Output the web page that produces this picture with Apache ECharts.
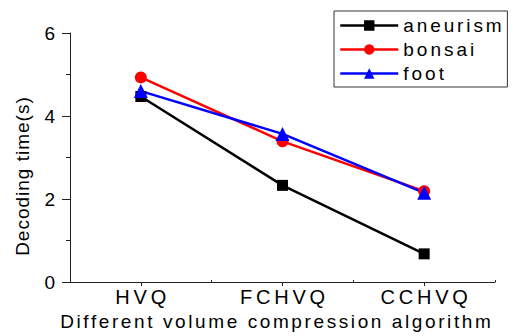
<!DOCTYPE html>
<html>
<head>
<meta charset="utf-8">
<script src="https://cdn.jsdelivr.net/npm/echarts@6/dist/echarts.min.js"></script>
<style>
html,body{margin:0;padding:0;background:#fff;}
#c{width:513px;height:336px;}
</style>
</head>
<body>
<div id="c"></div>
<script>
var categories = ['HVQ', 'FCHVQ', 'CCHVQ'];
var aneurism = [4.47, 2.33, 0.68];
var bonsai = [4.93, 3.39, 2.19];
var foot = [4.60, 3.57, 2.15];
var yTicks = [0, 2, 4, 6];

var FONT = 'Liberation Sans, Arial, Helvetica, sans-serif';
var chart = echarts.init(document.getElementById('c'), null, {renderer: 'svg'});

var option = {
  animation: false,
  backgroundColor: '#fff',
  grid: {left: 70, right: 18, top: 33, bottom: 53, containLabel: false},
  legend: {
    orient: 'vertical',
    left: 334,
    top: 11,
    padding: [5, 26, 4, 5],
    itemWidth: 58,
    itemHeight: 13,
    itemGap: 5,
    borderColor: '#333',
    borderWidth: 1,
    borderRadius: 0,
    selectedMode: false,
    lineStyle: {width: 2.5},
    textStyle: {fontFamily: FONT, fontSize: 19, color: '#000', lineHeight: 19},
    data: ['aneurism', 'bonsai', 'foot']
  },
  xAxis: [{
    type: 'category',
    data: categories,
    position: 'bottom',
    boundaryGap: true,
    axisLine: {show: true, lineStyle: {color: '#222', width: 1}},
    axisTick: {show: true, alignWithLabel: true, inside: false, length: 4, lineStyle: {color: '#222', width: 1}},
    axisLabel: {fontFamily: FONT, fontSize: 20, color: '#000', margin: 5},
    splitLine: {show: false},
    name: 'Different volume compression algorithm',
    nameLocation: 'middle',
    nameGap: 26,
    nameTextStyle: {fontFamily: FONT, fontSize: 19, color: '#000', padding: [0, 14, 0, 0]}
  }, {
    type: 'category',
    data: categories,
    position: 'bottom',
    boundaryGap: true,
    axisLine: {show: false},
    axisTick: {show: true, inside: true, length: 2, lineStyle: {color: '#222', width: 1}},
    axisLabel: {show: false},
    splitLine: {show: false}
  }],
  yAxis: {
    type: 'value',
    min: 0,
    max: 6,
    interval: 2,
    axisLine: {show: true, lineStyle: {color: '#222', width: 1}},
    axisTick: {show: true, inside: false, length: 8, lineStyle: {color: '#222', width: 1}},
    minorTick: {show: true, splitNumber: 2, length: 4, lineStyle: {color: '#222', width: 1}},
    splitLine: {show: false},
    axisLabel: {fontFamily: FONT, fontSize: 19, color: '#000', margin: 15,
      formatter: function (v) { return yTicks.indexOf(v) >= 0 ? String(v) : ''; }},
    name: 'Decoding time(s)',
    nameLocation: 'middle',
    nameGap: 38,
    nameTextStyle: {fontFamily: FONT, fontSize: 19, color: '#000', padding: [0, 38, 0, 0]}
  },
  series: [{
    name: 'aneurism', type: 'line', data: aneurism, xAxisIndex: 0,
    symbol: 'rect', symbolSize: 11, silent: true,
    lineStyle: {color: '#000', width: 2.5}, itemStyle: {color: '#000'}
  }, {
    name: 'bonsai', type: 'line', data: bonsai, xAxisIndex: 0,
    symbol: 'circle', symbolSize: 12, silent: true,
    lineStyle: {color: '#ff0000', width: 2.5}, itemStyle: {color: '#ff0000'}
  }, {
    name: 'foot', type: 'line', data: foot, xAxisIndex: 0,
    symbol: 'triangle', symbolSize: 14, silent: true,
    lineStyle: {color: '#0000ff', width: 2.5}, itemStyle: {color: '#0000ff'}
  }]
};
chart.setOption(option);

var spacing = {
  'aneurism': 2.9, 'bonsai': 3, 'foot': 3,
  'HVQ': 3.8, 'FCHVQ': 3.8, 'CCHVQ': 3.8,
  'Different volume compression algorithm': 2.6,
  'Decoding time(s)': 1
};
function applySpacing() {
  var texts = document.querySelectorAll('#c svg text');
  texts.forEach(function (t) {
    var s = spacing[t.textContent];
    if (s) {
      t.style.letterSpacing = s + 'px';
      if (t.getAttribute('text-anchor') === 'middle') t.setAttribute('dx', (s / 2).toFixed(1));
    }
  });
}
applySpacing();
chart.on('finished', applySpacing);
setTimeout(applySpacing, 50);
</script>
</body>
</html>
